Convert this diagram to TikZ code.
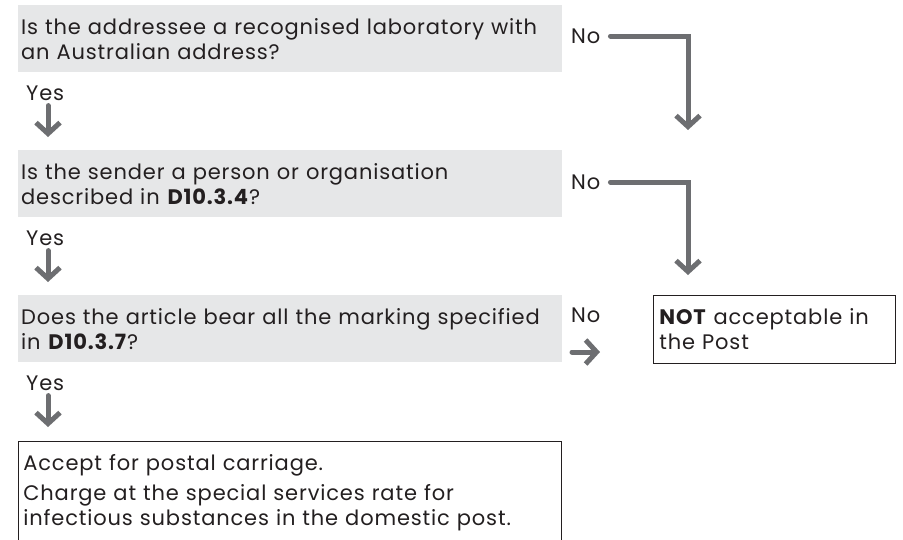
\documentclass[tikz,border=0pt]{standalone}
\usepackage{fontspec}
\setmainfont{Poppins}[LetterSpace=4]
\usetikzlibrary{arrows.meta}

\definecolor{boxgray}{HTML}{E6E7E8}
\definecolor{arrowgray}{HTML}{6D6E71}
\definecolor{ink}{HTML}{231F20}

\begin{document}
\begin{tikzpicture}%
            [x = 1pt, y = -1pt,
             font = \fontsize{21}{25}\selectfont, text = ink,
             question/.style = {fill = boxgray, anchor = north west, minimum width = 544pt,
                                minimum height = 67pt, text width = 538pt, inner xsep = 3pt, align = left},
             outcome/.style = {draw = ink, line width = 0.8pt, anchor = north west, inner xsep = 5pt, align = left},
             answer/.style = {inner sep = 2pt, anchor = west},
             flow/.style = {arrowgray, line width = 5pt, line cap = round,
                            -{Straight Barb[length = 11pt, width = 24pt]}}]
            \useasboundingbox (0,0) rectangle (903,539);
            \clip (0,0) rectangle (903,539);

            % questions
            \node [question] (q1) at (18,5) {Is the addressee a recognised laboratory with\\ an Australian address?};
            \node [question] (q2) at (18,150) {Is the sender a person or organisation\\ described in \textbf{D10.3.4}?};
            \node [question] (q3) at (18,295) {Does the article bear all the marking specified\\ in \textbf{D10.3.7}?};

            % outcomes
            \node [outcome, minimum width = 242pt, minimum height = 68pt, text width = 230pt] (refuse) at (653,295) {\textbf{NOT} acceptable in\\ the Post};
            \node [outcome, text width = 533pt, inner ysep = 13pt] (accept) at (18,441) {Accept for postal carriage.\\[5pt] Charge at the special services rate for\\ infectious substances in the domestic post.\rule[-40pt]{0pt}{0pt}};

            % answers
            \node [answer] (no1) at (569,36) {No};
            \node [answer] (no2) at (569,182) {No};
            \node [answer] (no3) at (569,315) {No};
            \node [answer] (yes1) at (24,93) {Yes};
            \node [answer] (yes2) at (24,238) {Yes};
            \node [answer] (yes3) at (24,383) {Yes};

            \coordinate (t1) at (688,130);
            \coordinate (t2) at (688,275);
            \coordinate (r1) at (572,352);
            \coordinate (r2) at (600,352);
            \coordinate (y1) at (48,137);
            \coordinate (y2) at (48,282);
            \coordinate (y3) at (48,427);

            \draw [flow, shorten < = 8pt] (no1.east) -| (t1);
            \draw [flow, shorten < = 8pt] (no2.east) -| (t2);
            \draw [flow] (r1) -- (r2);
            \draw [flow, shorten < = 3pt] (yes1.south -| y1) -- (y1);
            \draw [flow, shorten < = 3pt] (yes2.south -| y2) -- (y2);
            \draw [flow, shorten < = 3pt] (yes3.south -| y3) -- (y3);
\end{tikzpicture}
\end{document}
